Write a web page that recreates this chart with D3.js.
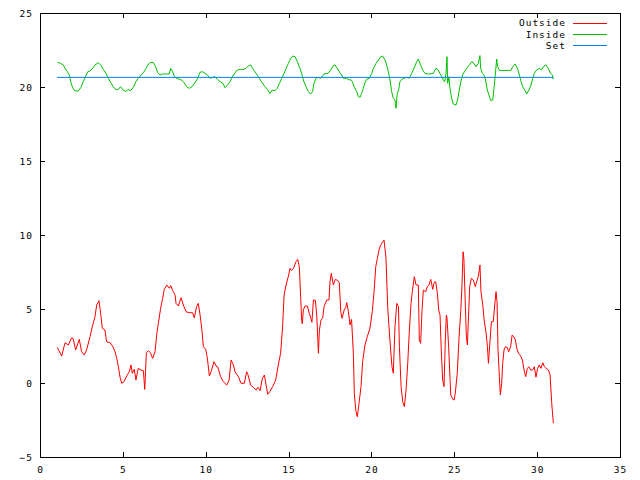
<!DOCTYPE html>
<html>
<head>
<meta charset="utf-8">
<script src="https://cdn.jsdelivr.net/npm/d3@7"></script>
<style>
  body { margin: 0; background: #fff; }
  svg { display: block; }
  text { font-family: "DejaVu Sans Mono", "Liberation Mono", monospace; font-size: 9.5px; letter-spacing: 1px; fill: #000; }
</style>
</head>
<body>
<svg id="chart" width="640" height="480"></svg>
<script>
// [day, temperature]
const outside = [
  [1.04, 2.41], [1.31, 1.82], [1.51, 2.72], [1.71, 2.57], [1.91, 3.06], [2.0, 3.0],
  [2.15, 2.23], [2.37, 2.95], [2.51, 2.11], [2.67, 1.89], [2.81, 2.23], [3.02, 3.13],
  [3.18, 3.92], [3.32, 4.48], [3.42, 5.27], [3.56, 5.56], [3.66, 4.71], [3.76, 3.7],
  [3.92, 3.58], [4.02, 2.79], [4.22, 2.72], [4.38, 2.5], [4.53, 2.11], [4.63, 1.67],
  [4.73, 1.1], [4.83, 0.39], [4.93, -0.02], [5.07, 0.09], [5.23, 0.47], [5.39, 0.76],
  [5.49, 1.22], [5.57, 0.66], [5.69, 0.93], [5.79, 0.2], [5.93, 0.99], [6.08, 0.88],
  [6.24, 0.83], [6.32, -0.43], [6.42, 2.05], [6.54, 2.18], [6.66, 2.05], [6.8, 1.67],
  [6.94, 2.11], [7.04, 3.24], [7.14, 4.03], [7.28, 5.05], [7.4, 5.72], [7.5, 6.33],
  [7.65, 6.62], [7.81, 6.4], [7.89, 6.58], [8.01, 6.24], [8.15, 5.95], [8.21, 5.38],
  [8.35, 5.2], [8.51, 5.76], [8.65, 5.27], [8.81, 4.82], [9.0, 4.75], [9.21, 4.75],
  [9.31, 4.41], [9.45, 5.16], [9.55, 5.38], [9.66, 4.59], [9.76, 3.7], [9.86, 2.45],
  [10.0, 2.28], [10.1, 1.67], [10.22, 0.47], [10.32, 0.76], [10.5, 1.44], [10.66, 1.1],
  [10.72, 1.1], [10.9, 0.43], [11.06, 0.09], [11.27, -0.14], [11.41, 0.2], [11.53, 1.55],
  [11.67, 1.22], [11.77, 0.76], [11.97, 0.43], [12.13, -0.02], [12.33, -0.02], [12.47, 0.76],
  [12.55, 0.56], [12.71, -0.14], [12.87, -0.29], [13.04, -0.47], [13.15, -0.29], [13.28, -0.52],
  [13.42, 0.32], [13.54, 0.54], [13.68, -0.36], [13.74, -0.76], [13.87, -0.58], [14.04, -0.25],
  [14.22, 0.2], [14.38, 1.22], [14.52, 2.01], [14.64, 3.8], [14.73, 5.95], [14.85, 6.62],
  [14.98, 7.18], [15.09, 7.75], [15.17, 7.6], [15.3, 7.75], [15.45, 8.2], [15.55, 8.36],
  [15.65, 7.86], [15.73, 5.83], [15.79, 4.26], [15.83, 4.0], [15.89, 4.93], [15.99, 5.2],
  [16.13, 5.2], [16.25, 4.71], [16.35, 4.37], [16.41, 4.1], [16.5, 5.61], [16.62, 5.58],
  [16.7, 4.59], [16.8, 2.01], [16.86, 3.58], [16.96, 4.26], [17.06, 4.4], [17.14, 5.16],
  [17.3, 5.61], [17.44, 5.61], [17.5, 6.85], [17.58, 7.41], [17.7, 6.62], [17.82, 7.0],
  [17.96, 6.93], [18.06, 6.78], [18.15, 4.82], [18.23, 4.37], [18.35, 4.93], [18.45, 5.1],
  [18.51, 5.43], [18.61, 4.82], [18.71, 3.92], [18.8, 4.3], [18.91, 2.01], [18.97, -0.81],
  [19.07, -1.94], [19.15, -2.28], [19.25, -1.38], [19.37, -0.25], [19.47, 1.44], [19.61, 2.57],
  [19.75, 3.13], [19.91, 3.7], [20.05, 4.82], [20.16, 6.17], [20.26, 7.86], [20.36, 8.43],
  [20.48, 9.1], [20.62, 9.44], [20.76, 9.66], [20.88, 8.43], [20.98, 5.16], [21.06, 3.8],
  [21.16, 2.23], [21.24, 1.1], [21.32, 0.66], [21.42, 3.8], [21.53, 5.38], [21.63, 5.16],
  [21.69, 2.45], [21.79, -0.25], [21.89, -1.26], [21.99, -1.6], [22.09, -0.47], [22.19, 1.33],
  [22.29, 3.58], [22.39, 5.38], [22.49, 6.4], [22.59, 7.18], [22.69, 6.62], [22.83, 6.62],
  [22.89, 2.91], [22.97, 2.68], [23.05, 4.82], [23.13, 6.28], [23.28, 6.17], [23.37, 6.51],
  [23.47, 6.6], [23.58, 7.0], [23.7, 6.33], [23.78, 6.78], [23.88, 6.85], [23.98, 6.06],
  [24.06, 4.93], [24.14, 4.59], [24.22, 2.01], [24.3, 0.2], [24.38, -0.25], [24.46, 2.91],
  [24.52, 4.59], [24.56, 4.4], [24.66, 2.45], [24.72, 0.88], [24.79, -0.81], [24.91, -1.1],
  [24.99, -1.15], [25.06, -0.7], [25.18, 0.66], [25.29, 3.13], [25.39, 4.82], [25.47, 6.73],
  [25.53, 8.87], [25.58, 8.4], [25.67, 5.16], [25.73, 3.13], [25.79, 2.57], [25.85, 4.26],
  [25.93, 6.51], [26.03, 7.07], [26.15, 6.96], [26.27, 6.51], [26.35, 6.85], [26.45, 7.2],
  [26.55, 7.97], [26.61, 6.17], [26.72, 5.27], [26.8, 4.26], [26.92, 3.36], [27.0, 2.45],
  [27.06, 1.33], [27.16, 2.91], [27.24, 4.14], [27.35, 4.14], [27.44, 5.27], [27.52, 6.17],
  [27.58, 5.5], [27.64, 2.23], [27.72, 0.43], [27.78, -0.81], [27.86, -0.02], [27.92, 1.33],
  [28.0, 2.23], [28.08, 2.45], [28.2, 2.4], [28.28, 2.11], [28.4, 2.45], [28.49, 3.24],
  [28.58, 3.13], [28.69, 2.91], [28.77, 2.34], [28.87, 2.01], [29.01, 1.82], [29.11, 1.55],
  [29.21, 0.88], [29.31, 0.43], [29.41, 0.99], [29.5, 1.1], [29.61, 0.88], [29.73, 0.88],
  [29.83, 1.1], [29.93, 0.39], [30.03, 0.99], [30.13, 1.22], [30.23, 0.99], [30.34, 1.37],
  [30.44, 1.1], [30.54, 0.99], [30.68, 0.88], [30.78, 0.54], [30.88, -1.38], [30.98, -2.72]
];

const inside = [
  [1.05, 21.67], [1.23, 21.6], [1.41, 21.49], [1.51, 21.26], [1.65, 21.03], [1.77, 20.81],
  [1.85, 20.36], [1.97, 19.95], [2.11, 19.73], [2.31, 19.73], [2.46, 19.95], [2.61, 20.36],
  [2.76, 20.74], [2.88, 21.03], [3.0, 21.08], [3.18, 21.26], [3.32, 21.49], [3.52, 21.64],
  [3.66, 21.49], [3.82, 21.19], [3.98, 20.92], [4.12, 20.59], [4.27, 20.29], [4.42, 20.02],
  [4.59, 19.8], [4.73, 19.84], [4.86, 20.02], [5.01, 19.8], [5.19, 19.69], [5.31, 19.84],
  [5.46, 19.75], [5.63, 19.98], [5.79, 20.36], [5.93, 20.59], [6.1, 20.81], [6.24, 20.96],
  [6.4, 21.26], [6.54, 21.55], [6.68, 21.67], [6.84, 21.64], [6.98, 21.37], [7.1, 20.97],
  [7.24, 20.81], [7.39, 20.88], [7.64, 20.88], [7.8, 20.88], [7.89, 21.26], [8.01, 21.03],
  [8.11, 20.7], [8.25, 20.59], [8.41, 20.52], [8.55, 20.47], [8.69, 20.29], [8.85, 20.02],
  [9.01, 19.91], [9.17, 20.02], [9.35, 20.29], [9.49, 20.52], [9.66, 21.0], [9.82, 21.03],
  [9.96, 20.92], [10.1, 20.81], [10.26, 20.59], [10.42, 20.65], [10.56, 20.7], [10.7, 20.52],
  [10.86, 20.36], [11.03, 20.25], [11.17, 19.95], [11.31, 20.13], [11.47, 20.36], [11.63, 20.74],
  [11.77, 20.96], [11.91, 21.15], [12.11, 21.19], [12.27, 21.19], [12.43, 21.26], [12.57, 21.42],
  [12.71, 21.49], [12.83, 21.26], [12.97, 21.03], [13.11, 20.81], [13.27, 20.52], [13.41, 20.29],
  [13.58, 20.02], [13.72, 19.84], [13.88, 19.57], [14.02, 19.8], [14.18, 19.75], [14.32, 19.91],
  [14.45, 20.25], [14.59, 20.59], [14.73, 20.92], [14.85, 21.26], [14.99, 21.6], [15.13, 21.94],
  [15.25, 22.09], [15.39, 22.05], [15.53, 21.71], [15.65, 21.37], [15.79, 20.92], [15.89, 20.47],
  [16.05, 20.02], [16.19, 19.69], [16.33, 19.53], [16.45, 19.69], [16.53, 20.25], [16.66, 20.59],
  [16.8, 20.65], [16.94, 20.59], [17.14, 20.88], [17.38, 20.92], [17.54, 21.15], [17.7, 21.44],
  [17.8, 21.49], [17.94, 21.26], [18.06, 21.03], [18.2, 20.81], [18.3, 20.59], [18.5, 20.59],
  [18.66, 20.47], [18.75, 20.5], [18.85, 20.36], [18.97, 19.98], [19.11, 19.69], [19.21, 19.35],
  [19.31, 19.3], [19.41, 19.57], [19.51, 19.91], [19.61, 20.29], [19.71, 20.52], [19.87, 20.59],
  [20.02, 20.92], [20.12, 21.26], [20.28, 21.6], [20.42, 21.82], [20.56, 22.05], [20.68, 22.09],
  [20.82, 21.82], [20.92, 21.49], [21.02, 21.03], [21.12, 20.47], [21.22, 19.69], [21.32, 19.24],
  [21.42, 19.12], [21.48, 18.56], [21.56, 19.57], [21.64, 19.8], [21.72, 20.36], [21.82, 20.52],
  [21.96, 20.59], [22.12, 20.65], [22.28, 20.59], [22.43, 20.92], [22.57, 21.26], [22.73, 21.71],
  [22.83, 21.89], [22.97, 21.49], [23.09, 21.15], [23.23, 20.92], [23.37, 20.88], [23.53, 20.88],
  [23.73, 20.92], [23.89, 21.26], [24.03, 21.15], [24.13, 20.92], [24.23, 20.74], [24.34, 20.47],
  [24.42, 20.36], [24.5, 20.92], [24.56, 22.05], [24.6, 20.25], [24.68, 20.7], [24.74, 19.91],
  [24.84, 19.24], [24.94, 18.85], [25.1, 18.78], [25.2, 19.12], [25.3, 19.8], [25.4, 20.36],
  [25.5, 20.81], [25.61, 21.03], [25.75, 21.26], [25.91, 21.49], [26.05, 21.71], [26.19, 21.6],
  [26.31, 21.37], [26.45, 21.6], [26.55, 22.12], [26.59, 21.26], [26.69, 20.92], [26.79, 20.81],
  [26.89, 20.47], [26.99, 19.8], [27.09, 19.46], [27.2, 19.08], [27.32, 19.12], [27.42, 20.13],
  [27.5, 21.15], [27.56, 21.89], [27.62, 21.37], [27.72, 21.12], [27.86, 21.12], [28.06, 21.12],
  [28.26, 21.12], [28.42, 21.12], [28.52, 21.37], [28.67, 21.55], [28.81, 21.26], [28.93, 20.81],
  [29.03, 20.36], [29.13, 20.02], [29.27, 19.75], [29.37, 19.53], [29.51, 19.8], [29.63, 20.13],
  [29.73, 20.59], [29.83, 20.92], [29.97, 21.15], [30.13, 21.26], [30.27, 21.15], [30.37, 21.37],
  [30.53, 21.49], [30.67, 21.26], [30.81, 20.92], [30.93, 20.81], [30.97, 20.52]
];

const setPoint = [[1.03, 20.65], [30.97, 20.65]];

const xTicks = [0, 5, 10, 15, 20, 25, 30, 35];
const yTicks = [-5, 0, 5, 10, 15, 20, 25];

const series = [
  { name: "Outside", color: "#ff0000", data: outside },
  { name: "Inside", color: "#00c000", data: inside },
  { name: "Set", color: "#0080ff", data: setPoint },
];

const plotLeft = 40, plotTop = 13, plotRight = 620, plotBottom = 457;

const svg = d3.select("#chart");
const x = d3.scaleLinear().domain([0, 35]).range([plotLeft, plotRight]);
const y = d3.scaleLinear().domain([-5, 25]).range([plotBottom, plotTop]);

// axes with inward ticks, mirrored on top/right like gnuplot
function tidy(g) {
  g.select(".domain").remove();
  g.selectAll("line").attr("stroke", "#000").attr("shape-rendering", "crispEdges");
  g.selectAll("text").attr("font-family", null).attr("font-size", null).attr("fill", "#000");
}

svg.append("g")
  .attr("transform", `translate(0,${plotBottom})`)
  .call(d3.axisBottom(x).tickValues(xTicks).tickFormat(d3.format("d")).tickSize(-5).tickPadding(9))
  .call(tidy);

svg.append("g")
  .attr("transform", `translate(0,${plotTop})`)
  .call(d3.axisTop(x).tickValues(xTicks.slice(1, -1)).tickFormat("").tickSize(-5))
  .call(tidy);

svg.append("g")
  .attr("transform", `translate(${plotLeft},0)`)
  .call(d3.axisLeft(y).tickValues(yTicks).tickFormat(d3.format("d")).tickSize(-5).tickPadding(7))
  .call(tidy);

svg.append("g")
  .attr("transform", `translate(${plotRight},0)`)
  .call(d3.axisRight(y).tickValues(yTicks.slice(1, -1)).tickFormat("").tickSize(-5))
  .call(tidy);

svg.append("rect")
  .attr("x", plotLeft + 0.5)
  .attr("y", plotTop + 0.5)
  .attr("width", plotRight - plotLeft)
  .attr("height", plotBottom - plotTop)
  .attr("fill", "none")
  .attr("stroke", "#000")
  .attr("shape-rendering", "crispEdges");

const line = d3.line().x((d) => x(d[0])).y((d) => y(d[1]));

svg.append("g")
  .selectAll("path")
  .data(series)
  .join("path")
  .attr("d", (d) => line(d.data))
  .attr("fill", "none")
  .attr("stroke", (d) => d.color)
  .attr("stroke-width", 1);

// legend
const legend = svg.append("g")
  .selectAll("g")
  .data(series)
  .join("g")
  .attr("transform", (d, i) => `translate(0,${23 + i * 11.2})`);

legend.append("text")
  .attr("x", 566)
  .attr("y", 0)
  .attr("dy", "0.35em")
  .attr("text-anchor", "end")
  .text((d) => d.name);

legend.append("line")
  .attr("x1", 573)
  .attr("x2", 607)
  .attr("y1", 0.5)
  .attr("y2", 0.5)
  .attr("stroke", (d) => d.color)
  .attr("shape-rendering", "crispEdges");
</script>
</body>
</html>
